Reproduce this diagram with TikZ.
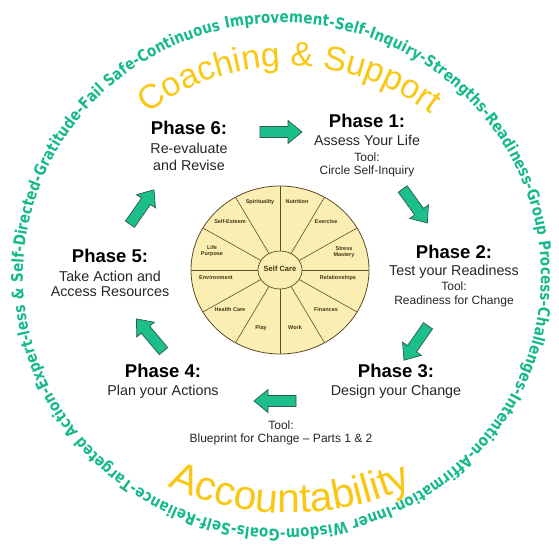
\documentclass[tikz,border=0pt]{standalone}
\usepackage{fontspec}
\setmainfont{Liberation Sans}
\newfontfamily\ringfont[FakeStretch=0.84]{DejaVu Sans}
\usetikzlibrary{decorations.text}
\definecolor{ringteal}{RGB}{22,185,140}
\definecolor{gold}{RGB}{250,200,20}
\definecolor{arrowfill}{RGB}{28,190,140}
\definecolor{arrowedge}{RGB}{45,90,72}
\definecolor{wheelin}{RGB}{250,238,178}
\definecolor{wheelout}{RGB}{238,210,128}
\definecolor{wheeledge}{RGB}{95,75,40}
\definecolor{wheeltext}{RGB}{70,50,20}
\pgfdeclareradialshading{wheelshade}{\pgfpoint{0bp}{0bp}}{color(0bp)=(wheelin); color(30bp)=(wheelin); color(50bp)=(wheelout)}
\tikzset{
 arrowstyle/.style={draw=arrowedge, fill=arrowfill, line width=0.7pt, line join=miter},
 blockarrow/.pic={\path[arrowstyle] (-21,-5.5) -- (7,-5.5) -- (7,-11.5) -- (21,0) -- (7,11.5) -- (7,5.5) -- (-21,5.5) -- cycle;},
 phasehead/.style={anchor=base, font=\bfseries\fontsize{18.5}{20}\selectfont, text=black, inner sep=0pt},
 phasedesc/.style={anchor=base, font=\fontsize{14.3}{16}\selectfont, text=black!85, inner sep=0pt},
 tooltext/.style={anchor=base, font=\fontsize{12}{14}\selectfont, text=black!85, inner sep=0pt},
 wheellabel/.style={font=\bfseries\fontsize{5.5}{6}\selectfont, text=wheeltext, align=center, inner sep=0pt},
 spoke/.style={draw=wheeledge, line width=0.6pt},
}
\begin{document}
\begin{tikzpicture}[x=1pt,y=1pt]
\useasboundingbox (0,0) rectangle (558,560);
\fill[white] (0,0) rectangle (558,560);

% outer ring of words
\path[decorate, decoration={text along path, text align={fit to path},
  text={|\ringfont\bfseries\fontsize{16}{16}\selectfont\color{ringteal}|Expert-less {\&} Self-Directed-Gratitude-Fail Safe-Continuous Improvement-Self-Inquiry-Strengths-Readiness-Group Process-Challenges-Intention-Affirmation-Inner Wisdom-Goals-Self-Reliance-Targeted Action-}}]
  (282,284) ++(206:259 and 253) arc[start angle=206, end angle=-154, x radius=259, y radius=253];

% arched titles
\path[decorate, decoration={text along path, text align=center,
  text={|\fontsize{34}{34}\selectfont\color{gold}|Coaching {\&} Support}}]
  (289,261) ++(150:233) arc[start angle=150, end angle=30, radius=233];
\path[decorate, decoration={text along path, text align=center,
  text={|\fontsize{41}{41}\selectfont\color{gold}|Accountability}}]
  (290,340) ++(235:293) arc[start angle=235, end angle=305, radius=293];

% wheel
\coordinate (wheelc) at (280,290);
\path[shading=wheelshade, draw=wheeledge, line width=0.8pt] (wheelc) ellipse[x radius=89, y radius=84];
\foreach \a in {0,30,...,330}
  \draw[spoke] ([shift={(\a:22 and 19)}]wheelc) -- ([shift={(\a:89 and 84)}]wheelc);
\path[shading=wheelshade, draw=wheeledge, line width=0.7pt] (wheelc) ellipse[x radius=22, y radius=19];
\node[wheellabel, font=\bfseries\fontsize{7.5}{8}\selectfont] (selfcare) at (280,291) {Self Care};
\node[wheellabel] (w1) at (260,358) {Spirituality};
\node[wheellabel] (w2) at (297,358) {Nutrition};
\node[wheellabel] (w3) at (326,338) {Exercise};
\node[wheellabel] (w4) at (344,308) {Stress\\Mastery};
\node[wheellabel] (w5) at (338,282) {Relationships};
\node[wheellabel] (w6) at (326,250) {Finances};
\node[wheellabel] (w7) at (295,232) {Work};
\node[wheellabel] (w8) at (261,232) {Play};
\node[wheellabel] (w9) at (230,250) {Health Care};
\node[wheellabel] (w10) at (216,282) {Environment};
\node[wheellabel] (w11) at (212,309) {Life\\Purpose};
\node[wheellabel] (w12) at (230,338) {Self-Esteem};

% phase 6
\node[phasehead] (p6h) at (189,425) {Phase 6:};
\node[phasedesc] (p6a) at (189,406) {Re-evaluate};
\node[phasedesc] (p6b) at (189,389.5) {and Revise};
% phase 1
\node[phasehead] (p1h) at (367,432) {Phase 1:};
\node[phasedesc] (p1a) at (367,414) {Assess Your Life};
\node[tooltext] (p1t) at (367,398.5) {Tool:};
\node[tooltext] (p1b) at (367,385) {Circle Self-Inquiry};
% phase 2
\node[phasehead] (p2h) at (454,301) {Phase 2:};
\node[phasedesc] (p2a) at (454,284) {Test your Readiness};
\node[tooltext] (p2t) at (454,269.5) {Tool:};
\node[tooltext] (p2b) at (454,255) {Readiness for Change};
% phase 3
\node[phasehead] (p3h) at (396,182) {Phase 3:};
\node[phasedesc] (p3a) at (396,164) {Design your Change};
% tool blueprint
\node[tooltext] (p3t) at (281,130) {Tool:};
\node[tooltext] (p3b) at (281,117) {Blueprint for Change -- Parts 1 \& 2};
% phase 4
\node[phasehead] (p4h) at (163,182) {Phase 4:};
\node[phasedesc] (p4a) at (163,164) {Plan your Actions};
% phase 5
\node[phasehead] (p5h) at (110,297) {Phase 5:};
\node[phasedesc] (p5a) at (110,278) {Take Action and};
\node[phasedesc] (p5b) at (110,263) {Access Resources};

% block arrows
\pic (a61) at (281,428) {blockarrow};
\pic[rotate=-54] (a12) at (415,354) {blockarrow};
\pic[rotate=-125] (a23) at (416,217) {blockarrow};
\pic[rotate=180] (a34) at (275,159) {blockarrow};
\pic[rotate=130] (a45) at (150,225) {blockarrow};
\pic[rotate=55] (a56) at (142,353) {blockarrow};
\end{tikzpicture}
\end{document}
